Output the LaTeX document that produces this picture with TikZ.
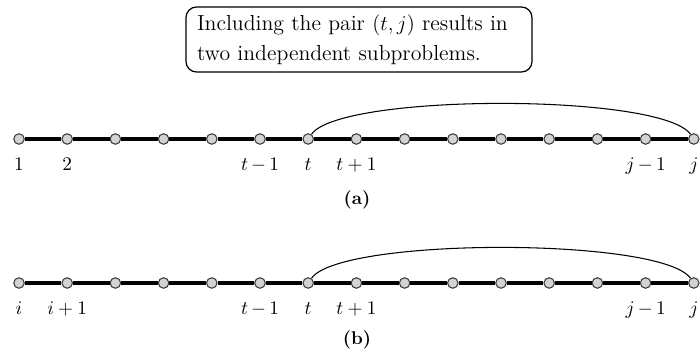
\documentclass[tikz,border=0pt]{standalone}
\usepackage{tikz}
\usetikzlibrary{positioning,calc}
\definecolor{chnFill}{HTML}{D2D3D5}
\definecolor{chnEdge}{HTML}{3A3A3A}
\tikzset{
  site/.style={
    circle, draw=chnEdge, line width=0.6pt, fill=chnFill,
    minimum size=0.21cm, inner sep=0pt},
  chain/.style={draw=black, line width=2.3pt},
  pairarc/.style={draw=black, line width=0.6pt},
  sitelbl/.style={font=\fontsize{10.5}{12}\selectfont, anchor=base},
  note/.style={
    draw=black, line width=0.7pt, rounded corners=6pt,
    text width=#1, align=left, inner xsep=0.22cm, minimum height=1.3cm,
    font=\fontsize{12.4}{17}\selectfont},
  note/.default=6.48cm,
  subcap/.style={font=\fontsize{10.5}{12}\selectfont\bfseries},
}

\begin{document}
\begin{tikzpicture}

\useasboundingbox (0,0) rectangle (14,7.16);

\def\xo{0.38}
\def\gap{0.964}

\node[note] (msg) at (7.18,6.37)
  {Including the pair $(t,j)$ results in\\ two independent subproblems.};

\foreach \k in {1,...,15} {
  \node[site] (a\k) at ({\xo+(\k-1)*\gap}, 4.38) {};
  \node[site] (b\k) at ({\xo+(\k-1)*\gap}, 1.5) {};
}

\foreach \k [remember=\k as \p (initially 1)] in {2,...,15} {
  \draw[chain] (a\p) -- (a\k);
  \draw[chain] (b\p) -- (b\k);
}

\foreach \k/\t in {1/1,2/2,6/t\,{-}\,1,7/t,8/t+1,14/j\,{-}\,1,15/j} {
  \node[sitelbl] (la\k) at ($(a\k)+(0,-0.64)$) {$\t$};
}
\foreach \k/\t in {1/i,2/i+1,6/t\,{-}\,1,7/t,8/t+1,14/j\,{-}\,1,15/j} {
  \node[sitelbl] (lb\k) at ($(b\k)+(0,-0.64)$) {$\t$};
}

\draw[pairarc] (a7) to[out=55, in=125, looseness=0.34] (a15);
\draw[pairarc] (b7) to[out=55, in=125, looseness=0.34] (b15);

\node[subcap] (capa) at (7.14,3.16) {(a)};
\node[subcap] (capb) at (7.14,0.36) {(b)};

\end{tikzpicture}
\end{document}
